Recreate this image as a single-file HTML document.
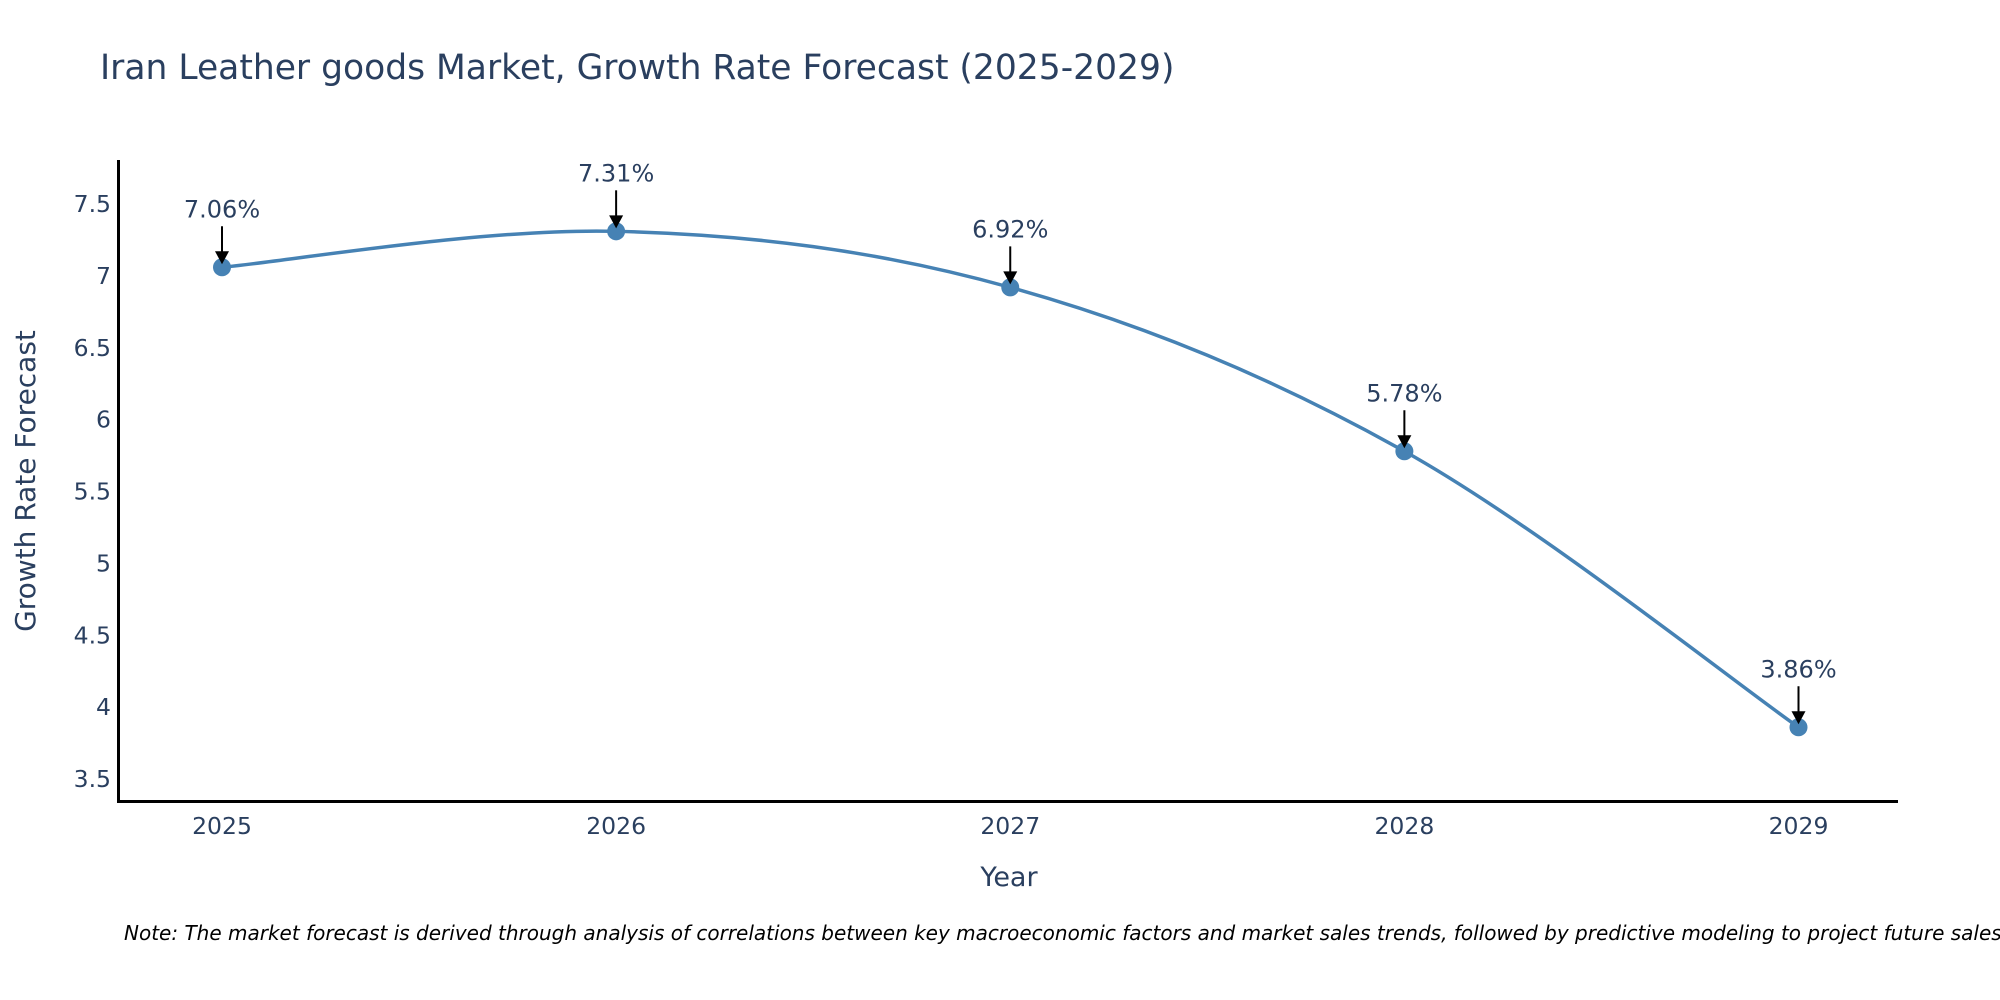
<!DOCTYPE html>
<html><head><meta charset="utf-8"><style>
html,body{margin:0;padding:0;background:#fff;overflow:hidden;}
svg{display:block;font-family:"DejaVu Sans","Liberation Sans",sans-serif;}
</style></head><body>
<svg id="chart" width="2000" height="1000" viewBox="0 0 2000 1000">
<text x="100" y="79" font-size="34.5" fill="#2a3f5f">Iran Leather goods Market, Growth Rate Forecast (2025-2029)</text>
<g id="yticks"></g>
<g id="xticks"></g>
<line x1="118.5" y1="160" x2="118.5" y2="802" stroke="#000" stroke-width="3"/>
<line x1="117" y1="801.5" x2="1898" y2="801.5" stroke="#000" stroke-width="3"/>
<text transform="translate(35,481) rotate(-90)" text-anchor="middle" font-size="28" fill="#2a3f5f">Growth Rate Forecast</text>
<text x="1009" y="886" text-anchor="middle" font-size="27" fill="#2a3f5f">Year</text>
<path id="line" fill="none" stroke="#4682b4" stroke-width="3.5"/>
<g id="points"></g>
<g id="annots"></g>
<text x="124" y="940" font-size="20" font-style="italic" fill="#000">Note: The market forecast is derived through analysis of correlations between key macroeconomic factors and market sales trends, followed by predictive modeling to project future sales.</text>
</svg>
<script>
const years = [2025, 2026, 2027, 2028, 2029];
const values = [7.06, 7.31, 6.92, 5.78, 3.86];
const yTickValues = [3.5, 4, 4.5, 5, 5.5, 6, 6.5, 7, 7.5];
const yTickLabels = ["3.5", "4", "4.5", "5", "5.5", "6", "6.5", "7", "7.5"];
const NS = "http://www.w3.org/2000/svg";
function xScale(yr){ return 222 + (yr - 2025) * (1798.5 - 222) / 4; }
function yScale(v){ return 779 + (v - 3.5) * (204 - 779) / 4; }
const yt = document.getElementById('yticks');
yTickValues.forEach((v,i)=>{
  const t = document.createElementNS(NS,'text');
  
  
  t.setAttribute('x',111); t.setAttribute('y',yScale(v)+8);
  t.setAttribute('text-anchor','end'); t.setAttribute('font-size','23.5'); t.setAttribute('fill','#2a3f5f');
  t.textContent = yTickLabels[i]; yt.appendChild(t);
});
const xt = document.getElementById('xticks');
years.forEach(yr=>{
  const t = document.createElementNS(NS,'text');
  
  
  t.setAttribute('x',xScale(yr)); t.setAttribute('y',834);
  t.setAttribute('text-anchor','middle'); t.setAttribute('font-size','23.5'); t.setAttribute('fill','#2a3f5f');
  t.textContent = String(yr); xt.appendChild(t);
});
const pts = years.map((yr,i)=>[xScale(yr), yScale(values[i])]);
let d = 'M'+pts[0][0]+','+pts[0][1];
const s = 0.17;
for(let i=0;i<pts.length-1;i++){
  const p0 = pts[Math.max(0,i-1)], p1 = pts[i], p2 = pts[i+1], p3 = pts[Math.min(pts.length-1,i+2)];
  const c1 = [p1[0]+(p2[0]-p0[0])*s, p1[1]+(p2[1]-p0[1])*s];
  const c2 = [p2[0]-(p3[0]-p1[0])*s, p2[1]-(p3[1]-p1[1])*s];
  d += ' C'+c1[0]+','+c1[1]+' '+c2[0]+','+c2[1]+' '+p2[0]+','+p2[1];
}
document.getElementById('line').setAttribute('d', d);
const pg = document.getElementById('points'), ag = document.getElementById('annots');
pts.forEach((p,i)=>{
  const c = document.createElementNS(NS,'circle');
  
  
  c.setAttribute('cx',p[0]); c.setAttribute('cy',p[1]); c.setAttribute('r',9); c.setAttribute('fill','#4682b4');
  pg.appendChild(c);
  const l = document.createElementNS(NS,'line');
  
  
  l.setAttribute('x1',p[0]); l.setAttribute('y1',p[1]-41); l.setAttribute('x2',p[0]); l.setAttribute('y2',p[1]-12);
  l.setAttribute('stroke','#000'); l.setAttribute('stroke-width','2');
  ag.appendChild(l);
  const h = document.createElementNS(NS,'polygon');
  
  
  h.setAttribute('points',(p[0]-7)+','+(p[1]-16)+' '+(p[0]+7)+','+(p[1]-16)+' '+p[0]+','+(p[1]-3));
  h.setAttribute('fill','#000');
  ag.appendChild(h);
  const t = document.createElementNS(NS,'text');
  
  
  t.setAttribute('x',p[0]); t.setAttribute('y',p[1]-50);
  t.setAttribute('text-anchor','middle'); t.setAttribute('font-size','24'); t.setAttribute('fill','#2a3f5f');
  t.textContent = values[i].toFixed(2)+'%';
  ag.appendChild(t);
});
</script>
</body></html>
